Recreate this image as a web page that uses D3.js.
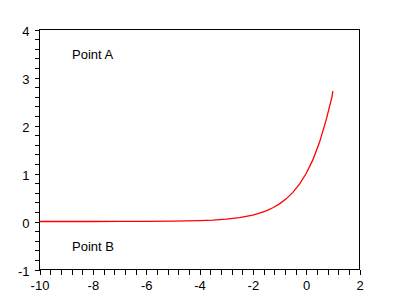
<!DOCTYPE html>
<html><head><meta charset="utf-8">
<script src="https://cdn.jsdelivr.net/npm/d3@7"></script>
<style>html,body{margin:0;padding:0;background:#fff;}svg{display:block;}</style>
</head><body>
<script>
// Data: y = e^x curve
const curveX = [-10, -9, -8, -7, -6, -5, -4.5, -4, -3.5, -3, -2.5, -2, -1.75, -1.5, -1.25, -1, -0.75, -0.5, -0.25, 0, 0.25, 0.5, 0.75, 0.97, 1];
const curveY = [0.00005, 0.0001, 0.0003, 0.0009, 0.0025, 0.0067, 0.011, 0.018, 0.030, 0.050, 0.082, 0.135, 0.174, 0.223, 0.287, 0.368, 0.472, 0.607, 0.779, 1.0, 1.284, 1.649, 2.117, 2.60, 2.718];
const xMajorTicks = [-10, -8, -6, -4, -2, 0, 2];
const yMajorTicks = [-1, 0, 1, 2, 3, 4];
const xMinorStep = 0.4;
const yMinorStep = 0.2;
const annotations = [
  {text: "Point A", x: -8.78, y: 3.47},
  {text: "Point B", x: -8.78, y: -0.53}
];

const W = 400, H = 300;
const svg = d3.select("body").append("svg").attr("width", W).attr("height", H);
const x = d3.scaleLinear().domain([-10, 2]).range([39.5, 359.5]);
const y = d3.scaleLinear().domain([-1, 4]).range([269.5, 29.5]);
const font = "'Liberation Sans', Arial, sans-serif";

// frame
svg.append("rect").attr("x", x(-10)).attr("y", y(4))
  .attr("width", x(2) - x(-10)).attr("height", y(-1) - y(4))
  .attr("fill", "none").attr("stroke", "#000").attr("stroke-width", 1)
  .attr("shape-rendering", "crispEdges");

const xTicks = d3.range(0, Math.round(12 / xMinorStep) + 1).map(i => -10 + i * xMinorStep);
const yTicks = d3.range(0, Math.round(5 / yMinorStep) + 1).map(i => -1 + i * yMinorStep);

const xAxis = d3.axisBottom(x).tickValues(xTicks).tickSize(5).tickPadding(6)
  .tickFormat(v => { const m = xMajorTicks.find(t => Math.abs(t - v) < 1e-6); return m === undefined ? "" : String(m); });
const gx = svg.append("g").attr("transform", `translate(0,${y(-1)})`).call(xAxis);
gx.select(".domain").remove();
gx.selectAll("line").attr("stroke", "#000").attr("shape-rendering", "crispEdges");
gx.selectAll("text").attr("fill", "#000").style("font-family", font).style("font-size", "13px");

const yAxis = d3.axisLeft(y).tickValues(yTicks).tickSize(5).tickPadding(5)
  .tickFormat(v => { const m = yMajorTicks.find(t => Math.abs(t - v) < 1e-6); return m === undefined ? "" : String(m); });
const gy = svg.append("g").attr("transform", `translate(${x(-10)},0)`).call(yAxis);
gy.select(".domain").remove();
gy.selectAll("line").attr("stroke", "#000").attr("shape-rendering", "crispEdges");
gy.selectAll("text").attr("fill", "#000").attr("dy", "0.45em").style("font-family", font).style("font-size", "13px");

// curve
const pts = curveX.map((v, i) => [v, curveY[i]]);
svg.append("path").datum(pts)
  .attr("d", d3.line().x(d => x(d[0])).y(d => y(d[1])).curve(d3.curveLinear))
  .attr("fill", "none").attr("stroke", "#ff0000").attr("stroke-width", 1.3);

// annotations
svg.selectAll("text.ann").data(annotations).enter().append("text")
  .attr("class", "ann")
  .attr("x", d => x(d.x)).attr("y", d => y(d.y)).attr("dy", "0.35em")
  .style("font-family", font).style("font-size", "13px").attr("fill", "#000")
  .text(d => d.text);
</script>
</body></html>
